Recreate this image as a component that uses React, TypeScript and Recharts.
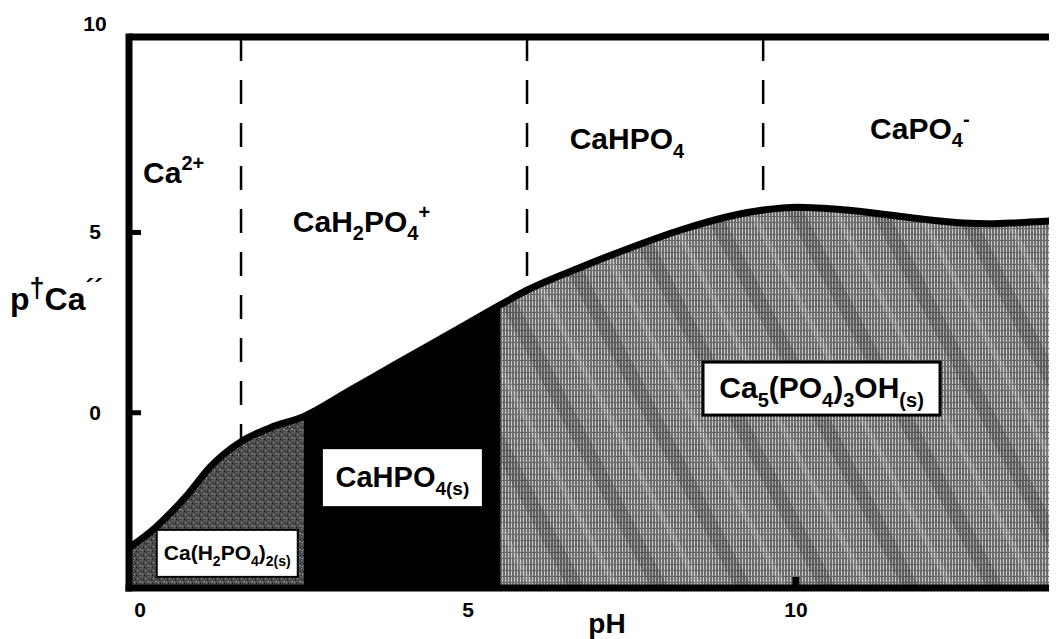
import {
  Area,
  ComposedChart,
  Label,
  Line,
  ReferenceDot,
  ReferenceLine,
  XAxis,
  YAxis,
} from 'recharts';

// boundary curve of the solid phases
const phPoints = [
  -0.25, 0.23, 0.72, 1.07, 1.54, 1.98, 2.5, 3.2, 3.96, 4.73, 5.5, 5.9, 6.71, 7.47, 8.23, 8.99, 9.5,
  10.02, 10.78, 11.78, 12.55, 12.95, 13.4, 14.0, 14.4,
];
const pCaValues = [
  -3.85, -3.19, -2.28, -1.5, -0.8, -0.42, -0.1, 0.62, 1.41, 2.2, 3.0, 3.4, 4.03, 4.57, 5.06, 5.45,
  5.62, 5.7, 5.62, 5.4, 5.26, 5.24, 5.27, 5.33, 5.37,
];
// pH where the stable solid changes: Ca(H2PO4)2 | CaHPO4 | Ca5(PO4)3OH
const solidChanges = [2.5, 5.5];
// pH where the dominant dissolved complex changes (dashed lines)
const complexChanges = [1.54, 5.9, 9.5];

const xTicks = [0, 5, 10];
const yTicks = [0, 5, 10];
const xDomain: [number, number] = [-0.168, 14.3];
const yDomain: [number, number] = [-4.86, 10.42];

type Piece = [string, ('sub' | 'sup')?, number?];

const complexLabels: { ph: number; pCa: number; pieces: Piece[] }[] = [
  { ph: 0.046, pCa: 6.37, pieces: [['Ca'], ['2+', 'sup']] },
  { ph: 2.33, pCa: 5.01, pieces: [['CaH'], ['2', 'sub'], ['PO'], ['4', 'sub'], ['+', 'sup']] },
  { ph: 6.55, pCa: 7.31, pieces: [['CaHPO'], ['4', 'sub']] },
  { ph: 11.13, pCa: 7.59, pieces: [['CaPO'], ['4', 'sub'], ['-', 'sup']] },
];

const solidLabels: { ph: number; pCa: number; pieces: Piece[] }[] = [
  {
    ph: 1.33,
    pCa: -3.9,
    pieces: [['Ca(H'], ['2', 'sub'], ['PO'], ['4', 'sub'], [')'], ['2(s)', 'sub']],
  },
  { ph: 4.0, pCa: -1.8, pieces: [['CaHPO'], ['4(s)', 'sub']] },
  {
    ph: 10.39,
    pCa: 0.67,
    pieces: [['Ca'], ['5', 'sub'], ['(PO'], ['4', 'sub'], [')'], ['3', 'sub'], ['OH'], ['(s)', 'sub']],
  },
];
const solidBoxStyles = [
  { w: 141, h: 47, fs: 21, sw: 2 },
  { w: 161, h: 59, fs: 29, sw: 2 },
  { w: 237, h: 53, fs: 30, sw: 3 },
];

const rows = phPoints.map((ph, i) => {
  const v = pCaValues[i];
  return {
    ph,
    pCa: v,
    mcpd: ph <= solidChanges[0] ? v : null,
    dcpa: ph >= solidChanges[0] && ph <= solidChanges[1] ? v : null,
    hap: ph >= solidChanges[1] ? v : null,
  };
});

const FONT = '"Liberation Sans", Arial, Helvetica, sans-serif';
const CHART_W = 1100;
const CHART_H = 631;
const MARGIN = { top: 29, right: 30, bottom: 11, left: 0 };
const Y_AXIS_W = 121;
const X_AXIS_H = 40;
const PLOT_BOTTOM = CHART_H - MARGIN.bottom - X_AXIS_H;

function Formula({
  x,
  y,
  pieces,
  size,
  anchor = 'start',
}: {
  x: number;
  y: number;
  pieces: Piece[];
  size: number;
  anchor?: 'start' | 'middle' | 'end';
}) {
  const small = Math.round(size * 0.66);
  let shift = 0;
  return (
    <text x={x} y={y} textAnchor={anchor} fontFamily={FONT} fontWeight="bold" fontSize={size} fill="#000">
      {pieces.map(([t, kind, own], i) => {
        const target = kind === 'sub' ? size * 0.28 : kind === 'sup' ? -size * 0.42 : 0;
        const dy = target - shift;
        shift = target;
        return (
          <tspan key={i} dy={dy} fontSize={own ?? (kind ? small : size)}>
            {t}
          </tspan>
        );
      })}
    </text>
  );
}

function XTick({ x, payload }: any) {
  const cx = payload?.coordinate ?? x;
  return (
    <g>
      {payload.value > 0 && <rect x={cx - 3.5} y={PLOT_BOTTOM - 11} width={7} height={8} fill="#000" />}
      <text x={cx} y={PLOT_BOTTOM + 29} textAnchor="middle" fontFamily={FONT} fontWeight="bold" fontSize={21}>
        {payload.value}
      </text>
    </g>
  );
}

function YTick({ y, payload }: any) {
  const cy = payload?.coordinate ?? y;
  const isTop = payload.value === yTicks[yTicks.length - 1];
  return (
    <g>
      {!isTop && <rect x={Y_AXIS_W + 3} y={cy - 2.5} width={9} height={5} fill="#000" />}
      <text
        x={Y_AXIS_W - 34}
        y={isTop ? MARGIN.top - 6 : cy + 7}
        textAnchor="middle"
        fontFamily={FONT}
        fontWeight="bold"
        fontSize={21}
      >
        {payload.value}
      </text>
    </g>
  );
}

export default function App() {
  return (
    <div style={{ width: 1049, height: CHART_H, overflow: 'hidden', background: '#fff' }}>
      <ComposedChart width={CHART_W} height={CHART_H} data={rows} margin={MARGIN}>
        <defs>
          <pattern id="mcpdTex" width="8" height="8" patternUnits="userSpaceOnUse">
            <rect width="8" height="8" fill="#4a4a4a" />
            <rect x="1" y="2" width="1" height="1" fill="#b0b0b0" />
            <rect x="5" y="0" width="1" height="1" fill="#8a8a8a" />
            <rect x="3" y="5" width="2" height="1" fill="#9a9a9a" />
            <rect x="6" y="6" width="1" height="1" fill="#c4c4c4" />
            <rect x="0" y="7" width="1" height="1" fill="#151515" />
            <rect x="7" y="3" width="1" height="1" fill="#1a1a1a" />
          </pattern>
          <pattern id="hapTex" width="3" height="6" patternUnits="userSpaceOnUse">
            <rect width="3" height="6" fill="#cdcdcd" />
            <rect x="0" width="2" height="6" fill="#6c6c6c" />
            <rect x="2" y="4" width="1" height="1" fill="#555" />
          </pattern>
          <pattern
            id="hapStreaks"
            width="74"
            height="10"
            patternUnits="userSpaceOnUse"
            patternTransform="rotate(-28)"
          >
            <rect x="0" width="15" height="10" fill="#000" fillOpacity={0.16} />
            <rect x="40" width="6" height="10" fill="#fff" fillOpacity={0.12} />
          </pattern>
        </defs>
        <XAxis
          type="number"
          dataKey="ph"
          domain={xDomain}
          allowDataOverflow
          ticks={xTicks}
          interval={0}
          tick={<XTick />}
          tickLine={false}
          axisLine={{ stroke: '#000', strokeWidth: 7, strokeLinecap: 'square' }}
          height={X_AXIS_H}
        >
          <Label
            content={({ viewBox }: any) => (
              <text
                x={(viewBox?.x ?? 0) + 478}
                y={(viewBox?.y ?? 0) + 45}
                textAnchor="middle"
                fontFamily={FONT}
                fontWeight="bold"
                fontSize={28}
              >
                pH
              </text>
            )}
          />
        </XAxis>
        <YAxis
          type="number"
          domain={yDomain}
          allowDataOverflow
          ticks={yTicks}
          interval={0}
          tick={<YTick />}
          tickLine={false}
          axisLine={{ stroke: '#000', strokeWidth: 7, strokeLinecap: 'square' }}
          width={Y_AXIS_W}
        >
          <Label
            content={({ viewBox }: any) => (
              <Formula
                x={(viewBox?.x ?? 0) + 2}
                y={(viewBox?.y ?? 0) + 273}
                size={32}
                pieces={[['p'], ['†', 'sup', 27], ['Ca'], ['´´', 'sup', 26]]}
              />
            )}
          />
        </YAxis>
        <Area
          type="monotone"
          dataKey="mcpd"
          stroke="none"
          fill="url(#mcpdTex)"
          fillOpacity={1}
          baseValue="dataMin"
          isAnimationActive={false}
        />
        <Area
          type="monotone"
          dataKey="dcpa"
          stroke="none"
          fill="#000"
          fillOpacity={1}
          baseValue="dataMin"
          isAnimationActive={false}
        />
        <Area
          type="monotone"
          dataKey="hap"
          stroke="none"
          fill="url(#hapTex)"
          fillOpacity={1}
          baseValue="dataMin"
          isAnimationActive={false}
        />
        <Area
          type="monotone"
          dataKey="hap"
          stroke="none"
          fill="url(#hapStreaks)"
          fillOpacity={1}
          baseValue="dataMin"
          isAnimationActive={false}
          legendType="none"
        />
        {complexChanges.map((ph) => {
          const row = rows.find((r) => r.ph === ph);
          return (
            <ReferenceLine
              key={ph}
              ifOverflow="visible"
              segment={[
                { x: ph, y: yDomain[1] },
                { x: ph, y: row ? row.pCa : 0 },
              ]}
              stroke="#000"
              strokeWidth={2.5}
              strokeDasharray="24 19"
            />
          );
        })}
        <Line
          type="monotone"
          dataKey="pCa"
          stroke="#000"
          strokeWidth={7}
          dot={false}
          activeDot={false}
          isAnimationActive={false}
        />
        <ReferenceLine y={yDomain[1]} ifOverflow="visible" stroke="#000" strokeWidth={7} />
        {complexLabels.map((l, i) => (
          <ReferenceDot
            key={`c${i}`}
            x={l.ph}
            y={l.pCa}
            r={1}
            ifOverflow="visible"
            shape={(p: any) => <Formula x={p.cx} y={p.cy} size={30} pieces={l.pieces} />}
          />
        ))}
        {solidLabels.map((l, i) => {
          const s = solidBoxStyles[i];
          return (
            <ReferenceDot
              key={`s${i}`}
              x={l.ph}
              y={l.pCa}
              r={1}
              ifOverflow="visible"
              shape={(p: any) => (
                <g>
                  <rect
                    x={p.cx - s.w / 2}
                    y={p.cy - s.h / 2}
                    width={s.w}
                    height={s.h}
                    fill="#fff"
                    stroke="#000"
                    strokeWidth={s.sw}
                  />
                  <Formula x={p.cx} y={p.cy + s.fs * 0.33} size={s.fs} anchor="middle" pieces={l.pieces} />
                </g>
              )}
            />
          );
        })}
      </ComposedChart>
    </div>
  );
}
